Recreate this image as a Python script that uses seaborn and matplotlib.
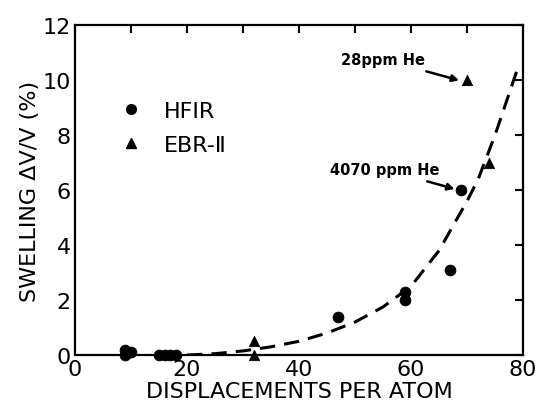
import matplotlib
matplotlib.use("Agg")
import matplotlib.pyplot as plt
import seaborn as sns
import pandas as pd
from matplotlib.ticker import MultipleLocator
from matplotlib.lines import Line2D

# data
hfir_x = [9, 9, 10, 15, 16, 17, 18, 47, 59, 59, 67, 69]
hfir_y = [0.2, 0.0, 0.1, 0.0, 0.0, 0.0, 0.0, 1.4, 2.3, 2.0, 3.1, 6.0]
ebr_x = [9.5, 32, 32, 70, 74]
ebr_y = [0.1, 0.5, 0.0, 10.0, 7.0]
curve_x = [20, 25, 30, 35, 40, 45, 50, 55, 60, 65, 70, 72, 75, 79]
curve_y = [0.0, 0.05, 0.15, 0.3, 0.5, 0.8, 1.2, 1.75, 2.5, 3.8, 5.6, 6.4, 8.0, 10.4]
xticks = [0, 20, 40, 60, 80]
yticks = [0, 2, 4, 6, 8, 10, 12]

sns.set_theme(style="white")
plt.rcParams['font.family'] = ['DejaVu Sans']
plt.rcParams['text.color'] = 'black'
plt.rcParams['axes.labelcolor'] = 'black'
plt.rcParams['xtick.color'] = 'black'
plt.rcParams['ytick.color'] = 'black'

fig = plt.figure(figsize=(5.37, 4.14), dpi=100)
ax = fig.add_axes([0.1397, 0.140, 0.8343, 0.797])

df_h = pd.DataFrame({"x": hfir_x, "y": hfir_y})
df_e = pd.DataFrame({"x": ebr_x, "y": ebr_y})
df_c = pd.DataFrame({"x": curve_x, "y": curve_y})

sns.lineplot(data=df_c, x="x", y="y", ax=ax, color="black", lw=2.2,
             linestyle=(0, (5, 3)), sort=True)
sns.scatterplot(data=df_h, x="x", y="y", ax=ax, color="black", marker="o",
                s=60, edgecolor="black", zorder=3, clip_on=False)
sns.scatterplot(data=df_e, x="x", y="y", ax=ax, color="black", marker="^",
                s=55, edgecolor="black", zorder=3, clip_on=False)

ax.set_xlim(0, 80)
ax.set_ylim(0, 12)
ax.set_xticks(xticks)
ax.set_yticks(yticks)
ax.xaxis.set_minor_locator(MultipleLocator(10))
ax.tick_params(which="both", direction="in", top=True, right=True,
               length=6, width=1.5, color="black", labelsize=16, pad=3,
               labelcolor="black")
for s in ax.spines.values():
    s.set_color("black")
    s.set_linewidth(1.6)

ax.set_xlabel("DISPLACEMENTS PER ATOM", fontsize=16, labelpad=1, color="black")
ax.set_ylabel("SWELLING ΔV/V (%)", fontsize=16, labelpad=2, color="black")

handles = [Line2D([], [], marker="o", color="black", linestyle="", markersize=7),
           Line2D([], [], marker="^", color="black", linestyle="", markersize=7)]
leg = ax.legend(handles, ["HFIR", "EBR-Ⅱ"], loc="upper left",
                bbox_to_anchor=(0.03, 0.83), frameon=False, fontsize=16,
                handletextpad=0.5, labelspacing=0.6)
for t in leg.get_texts():
    t.set_color("black")

ax.annotate("28ppm He", xy=(69.3, 9.95), xytext=(62.5, 10.75), fontsize=10.5,
            fontweight="semibold", ha="right", va="center", color="black",
            arrowprops=dict(arrowstyle="-|>", color="black", lw=1.8,
                            shrinkA=3, shrinkB=3, mutation_scale=10))
ax.annotate("4070 ppm He", xy=(68.5, 6.0), xytext=(65, 6.75), fontsize=10.5,
            fontweight="semibold", ha="right", va="center", color="black",
            arrowprops=dict(arrowstyle="-|>", color="black", lw=1.8,
                            shrinkA=3, shrinkB=3, mutation_scale=10))

fig.savefig("out.png", dpi=100)
